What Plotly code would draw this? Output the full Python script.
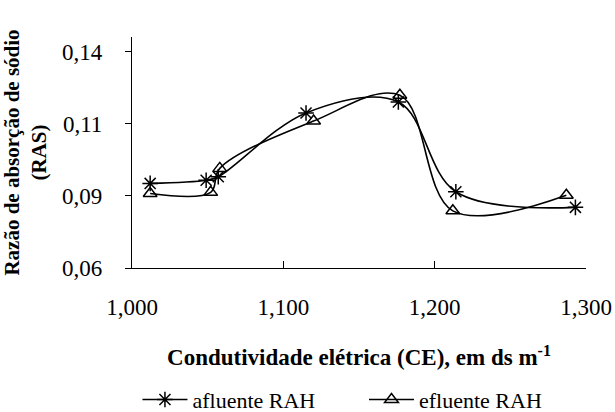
import plotly.graph_objects as go

# Data
ce_afluente = [1.012, 1.049, 1.057, 1.115, 1.176, 1.214, 1.293]
ras_afluente = [0.0893, 0.0904, 0.0916, 0.1137, 0.1175, 0.0864, 0.0810]

ce_efluente = [1.012, 1.052, 1.058, 1.120, 1.177, 1.212, 1.287]
ras_efluente = [0.0858, 0.0862, 0.0945, 0.1109, 0.1198, 0.0798, 0.0852]

x_tickvals = [1.0, 1.1, 1.2, 1.3]
x_ticktext = ["1,000", "1,100", "1,200", "1,300"]
y_tickvals = [0.06, 0.085, 0.11, 0.135]
y_ticktext = ["0,06", "0,09", "0,11", "0,14"]

FONT = "Liberation Serif"

fig = go.Figure()
fig.add_trace(go.Scatter(
    x=ce_afluente, y=ras_afluente, name="afluente RAH",
    mode="lines+markers", legend="legend",
    line=dict(color="black", width=1.6, shape="spline", smoothing=1),
    marker=dict(symbol="asterisk-open", size=13, color="black",
                line=dict(color="black", width=1.5)),
))
fig.add_trace(go.Scatter(
    x=ce_efluente, y=ras_efluente, name="efluente RAH",
    mode="lines+markers", legend="legend2",
    line=dict(color="black", width=1.6, shape="spline", smoothing=1),
    marker=dict(symbol="triangle-up-open", size=12, color="black",
                line=dict(color="black", width=1.5)),
))

legend_common = dict(orientation="h", xanchor="left", y=-0.57, yanchor="middle",
                     font=dict(size=22, family=FONT), itemwidth=45,
                     bgcolor="rgba(0,0,0,0)")

fig.update_layout(
    width=615, height=412,
    margin=dict(l=132, r=29, t=37, b=144, autoexpand=False),
    paper_bgcolor="white", plot_bgcolor="white",
    font=dict(family=FONT, size=22, color="black"),
    showlegend=True,
    legend=dict(x=0.012, **legend_common),
    legend2=dict(x=0.511, **legend_common),
    xaxis=dict(
        range=[1.0, 1.3], tickvals=x_tickvals, ticktext=x_ticktext,
        showgrid=False, zeroline=False, showline=True, linecolor="black", linewidth=1.2,
        ticks="inside", ticklen=7, tickcolor="black", tickwidth=1.2,
        tickfont=dict(size=23, family=FONT), automargin=False, ticklabelstandoff=18,
        title=dict(text="<b>Condutividade elétrica (CE), em ds m<sup>-1</sup></b>",
                   font=dict(size=23, family=FONT), standoff=30),
    ),
    yaxis=dict(
        range=[0.06, 0.14], tickvals=y_tickvals, ticktext=y_ticktext,
        showgrid=False, zeroline=False, showline=True, linecolor="black", linewidth=1.2,
        ticks="outside", ticklen=6, tickcolor="black", tickwidth=1.2,
        tickfont=dict(size=23, family=FONT), automargin=False, ticklabelstandoff=18,
        title=dict(text="<b>Razão de absorção de sódio<br>(RAS)</b>",
                   font=dict(size=21, family=FONT), standoff=9),
    ),
)

fig.write_html("out.html", config={"displayModeBar": False},
               post_script="document.body.style.margin='0';document.body.style.overflow='hidden';")
